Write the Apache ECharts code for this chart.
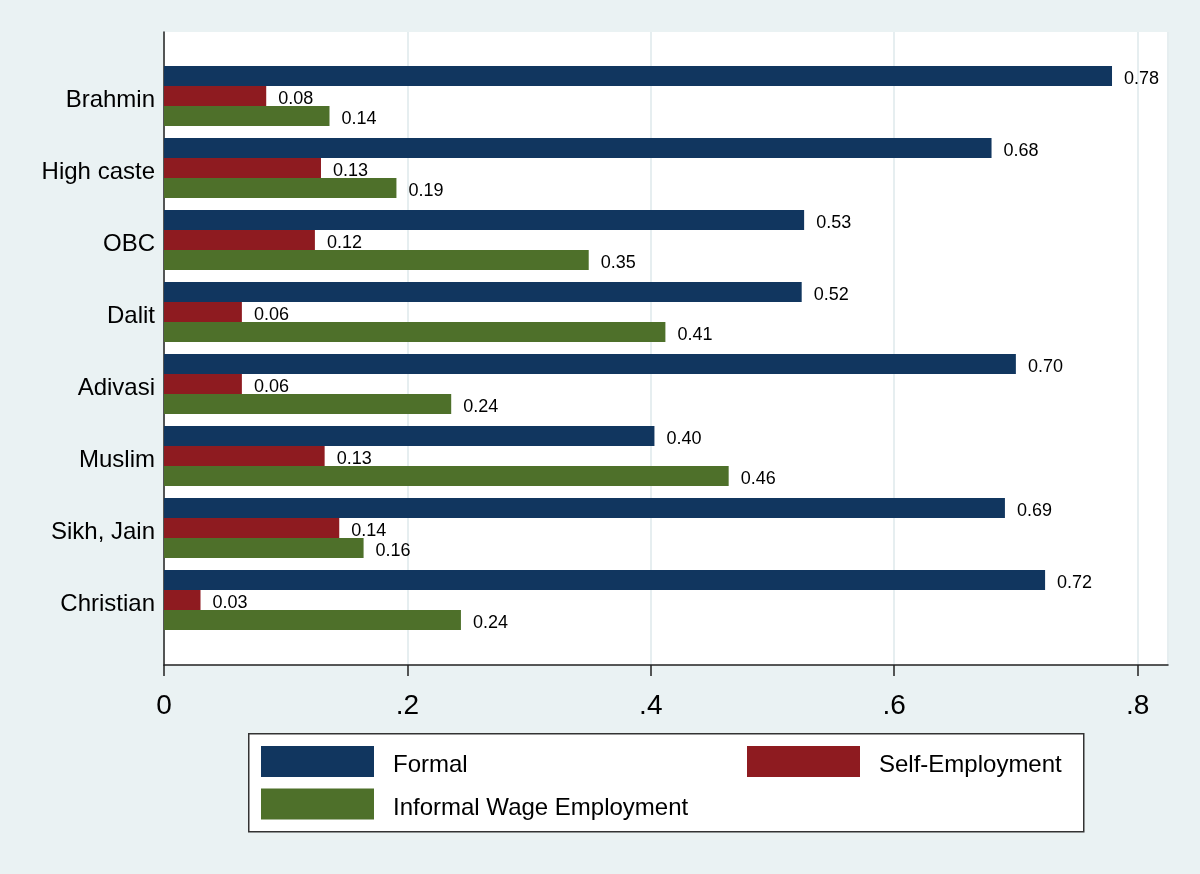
<!DOCTYPE html>
<html>
<head>
<meta charset="utf-8">
<script src="https://cdn.jsdelivr.net/npm/echarts@6/dist/echarts.min.js"></script>
<style>
    html, body { margin: 0; padding: 0; background: #eaf2f3; }
    #chart { width: 1200px; height: 874px; }
</style>
</head>
<body>
<div id="chart"></div>
<script>
    // groups, top to bottom
    var categories = ['Brahmin', 'High caste', 'OBC', 'Dalit', 'Adivasi', 'Muslim', 'Sikh, Jain', 'Christian'];
    var formal = [0.779, 0.680, 0.526, 0.524, 0.700, 0.403, 0.691, 0.724];
    var selfEmp = [0.084, 0.129, 0.124, 0.064, 0.064, 0.132, 0.144, 0.030];
    var informal = [0.136, 0.191, 0.349, 0.412, 0.236, 0.464, 0.164, 0.244];
    // x axis
    var tickValues = [0, 0.2, 0.4, 0.6, 0.8];
    var tickLabels = ['0', '.2', '.4', '.6', '.8'];

    var font = 'Liberation Sans, Arial, sans-serif';
    var xMax = 0.825;

    function barLabel() {
        return {
            show: true,
            position: 'right',
            distance: 12,
            offset: [0, 3],
            fontFamily: font,
            fontSize: 18,
            color: '#000',
            formatter: function (p) { return p.value.toFixed(2); }
        };
    }

    // legend text sits a little below the swatch centre, like the original
    var legendText = {
        fontFamily: font, fontSize: 24, color: '#000', padding: [0, 0, 0, 14],
        rich: { t: { fontFamily: font, fontSize: 24, color: '#000', padding: [8, 0, 0, 0] } }
    };

    var chart = echarts.init(document.getElementById('chart'));
    chart.setOption({
        backgroundColor: '#eaf2f3',
        animation: false,
        grid: [
            // frame (white plot region + axes)
            { left: 164, right: 32, top: 32, bottom: 209, show: true, backgroundColor: '#fff', borderWidth: 0 },
            // bars
            { left: 164, right: 32, top: 60, bottom: 238 }
        ],
        xAxis: [
            {
                gridIndex: 0, type: 'value', min: 0, max: xMax, interval: 0.2,
                axisLine: { show: true, lineStyle: { color: '#222', width: 1.5 } },
                axisTick: { show: true, length: 11, lineStyle: { color: '#222', width: 1.5 } },
                axisLabel: {
                    margin: 27, fontFamily: font, fontSize: 28, color: '#000', showMaxLabel: false,
                    formatter: function (v) {
                        for (var i = 0; i < tickValues.length; i++) {
                            if (Math.abs(v - tickValues[i]) < 1e-6) return tickLabels[i];
                        }
                        return '';
                    }
                },
                splitLine: { show: true, lineStyle: { color: '#e6eef0', width: 2 } }
            },
            { gridIndex: 1, type: 'value', min: 0, max: xMax, show: false }
        ],
        yAxis: [
            {
                gridIndex: 0, type: 'value', min: 0, max: 1,
                axisLine: { show: true, lineStyle: { color: '#222', width: 1.5 } },
                axisTick: { show: false }, axisLabel: { show: false }, splitLine: { show: false }
            },
            {
                gridIndex: 1, type: 'category', inverse: true, data: categories,
                axisLine: { show: false }, axisTick: { show: false },
                axisLabel: {
                    margin: 9, fontFamily: font, fontSize: 24, color: '#000',
                    verticalAlign: 'top', lineHeight: 8
                }
            }
        ],
        legend: [
            {
                data: ['Formal', 'Informal Wage Employment'], orient: 'vertical',
                left: 261, top: 746, padding: 0, itemWidth: 113, itemHeight: 31, itemGap: 11, z: 5,
                icon: 'rect', selectedMode: false,
                formatter: function (name) { return '{t|' + name + '}'; },
                textStyle: legendText
            },
            {
                data: ['Self-Employment'], orient: 'vertical',
                left: 747, top: 746, padding: 0, itemWidth: 113, itemHeight: 31, z: 5,
                icon: 'rect', selectedMode: false,
                formatter: function (name) { return '{t|' + name + '}'; },
                textStyle: legendText
            }
        ],
        graphic: [
            {
                type: 'rect', left: 248, top: 733, z: 1,
                shape: { width: 835, height: 98 },
                style: { fill: '#fff', stroke: '#333', lineWidth: 1.5 }
            }
        ],
        series: [
            {
                name: 'Formal', type: 'bar', xAxisIndex: 1, yAxisIndex: 1,
                data: formal, barWidth: 20, barGap: '0%',
                itemStyle: { color: '#11365f' }, label: barLabel()
            },
            {
                name: 'Self-Employment', type: 'bar', xAxisIndex: 1, yAxisIndex: 1,
                data: selfEmp, barWidth: 20, barGap: '0%',
                itemStyle: { color: '#8e1b20' }, label: barLabel()
            },
            {
                name: 'Informal Wage Employment', type: 'bar', xAxisIndex: 1, yAxisIndex: 1,
                data: informal, barWidth: 20, barGap: '0%',
                itemStyle: { color: '#4e702a' }, label: barLabel()
            }
        ]
    });
</script>
</body>
</html>
